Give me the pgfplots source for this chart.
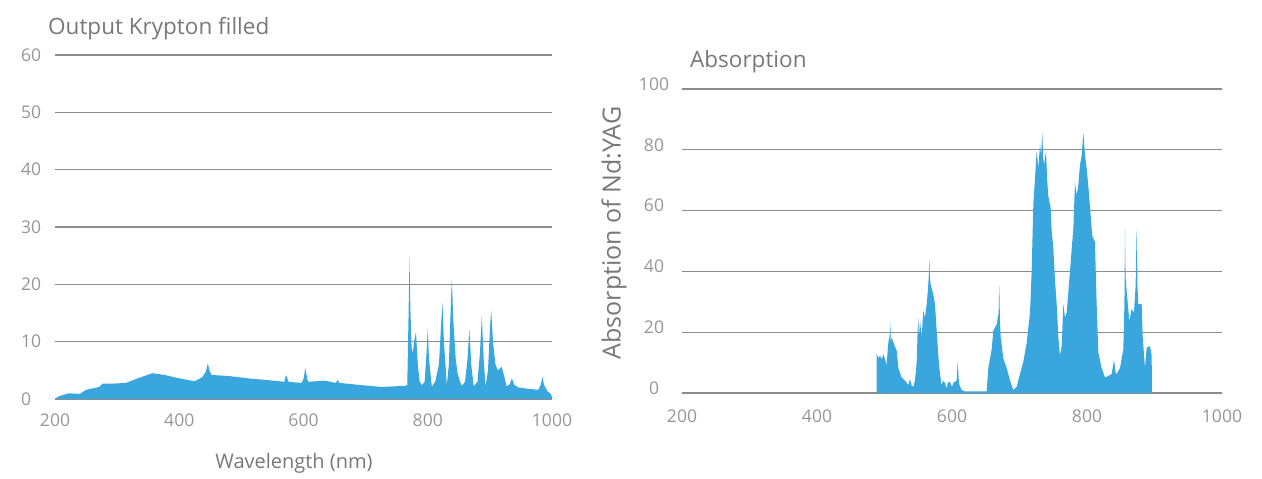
\documentclass[border=0pt]{standalone}
\usepackage{pgfplots}
\pgfplotsset{compat=1.18}
\usepackage{fontspec}
\setmainfont{Open Sans}
\definecolor{fillblue}{RGB}{58,166,222}
\definecolor{gridgray}{RGB}{140,140,140}
\definecolor{ticktext}{RGB}{150,150,150}
\definecolor{labeltext}{RGB}{120,120,120}

\pgfplotstableread{
nm val
200 0
205 0.4
213 0.7
222 1.0
240 0.9
250 1.6
271 2.1
277 2.7
296 2.7
314 2.8
333 3.6
357 4.5
376 4.2
400 3.6
425 3.1
437 3.8
443 4.8
446 6.2
449 4.8
452 4.2
480 4.0
511 3.6
542 3.3
569 3.0
572 4.2
576 3.0
597 2.8
600 3.5
603 5.4
606 3.5
608 3.0
634 3.2
652 2.8
655 3.3
658 2.8
695 2.4
726 2.1
763 2.3
767 2.4
769 14
770.6 24.8
772 16
774 9
776 8
778 10
781 11.7
784 6
787 3
790.5 2.4
795 3
798 8
800 12.2
802 7
806.5 2.2
812 3
818 6
821 12
823.7 16.8
826 10
830.7 2.4
834 6
837 16
838.8 20.9
841 14
845 7
848 4.5
852 3
855 2.3
860 3
864 7
867 12.2
870 6
874 2.2
880 3
884 8
887 14.5
890 7
893 2.2
897 5
900 12
902 15.6
905 10
909 6
913 5
919 5.6
923 4
927 2.2
932 2.6
935.5 3.6
939 2.5
946 2.0
960 1.8
978 1.6
982 2.5
984.7 3.9
987 2.5
993 1.3
997 1.0
1000 0.4
}\krypton

\pgfplotstableread{
nm val
488.4 0
488.5 12.8
491 11.5
493.3 12.3
496 11
498.3 12.8
501 11
503.2 9.2
505 15
507.2 19.5
508.4 16
509.1 23.6
509.8 18
511 18
515 15.5
518 14
520.5 8.2
525.4 5.1
530.4 4.1
535.3 2.6
537.8 4.6
540 2.5
542.7 2.0
545 4
547.7 10
549 20
550.1 24.8
551 18
552.6 23.6
555.1 18.5
557.5 27
560 24.8
562.5 29.2
564 33
565.5 38
566.4 44.3
567.3 38
568.4 35.7
572.3 32.4
574.8 29.2
577.3 20.5
579.7 12.3
582.2 6.2
584.7 2.6
587 4
589.6 3.3
592 1.5
594 3.5
597 3.6
600 2.0
602 3.3
606.9 4.1
608.4 10.3
610.4 3.0
614.3 1.0
619.3 0.5
626.7 0.5
651.4 0.5
653.8 8.2
658.8 14.4
661.2 20.5
666.2 22.6
669 26
670.1 35.7
671 24
672.1 18.5
676.1 11.3
681 8.2
685.9 4.1
690.9 1.0
695.8 2.0
700.7 6.2
705.7 10.3
710.6 16.4
715.6 26.5
718 40
720.5 62
723 70.7
725.4 79.5
728 74
730.4 82
732 78
733.8 85.6
735 78
736.3 75
739.3 79.5
741 70
742.7 64.7
746.2 60.8
747.6 53.5
750.1 47.7
752.6 37
755.1 29.2
757.5 18.5
760 12.3
762.5 15.4
764.9 29.2
767.4 24.8
769.9 26.5
774.8 40
779.8 54.4
782.2 69
784.7 65.2
787 68
789.6 75
792 78
794.6 85.6
797 78.4
799.5 73.9
802 68
804.4 61.2
807.9 51.6
811.8 49.7
814.3 29.2
816.8 13.3
821.7 8.2
826.7 5.1
831.6 5.6
836.5 6.2
840 10.8
843 6
848.9 8.2
853.8 14.4
855.5 30
856.3 54
857.2 38
858.8 33.5
862.7 23.6
866.2 27.6
869.6 26.5
872 35
873.6 54.4
874.8 35
876 29.2
881 29.2
882.5 18.5
885.9 8.2
888.4 14.9
893.3 15.4
895.8 12.3
896.3 0
}\ndyag

\pgfplotsset{
  myaxis/.style={
    scale only axis, anchor=south west,
    axis line style={draw=none}, tick style={draw=none},
    major tick length=0pt,
    ymajorgrids, major grid style={draw=gridgray, line width=1.3pt},
    xmin=200, xmax=1000,
    xtick={200,400,600,800,1000}, xticklabels={200,400,600,800,1000},
    ticklabel style={font=\fontsize{17.5}{20}\selectfont, text=ticktext, inner sep=0pt},
  }
}

\begin{document}
\begin{tikzpicture}
\path[use as bounding box] (0pt,0pt) rectangle (1262pt,479pt);

\begin{axis}[myaxis, at={(55pt,80pt)}, width=497pt, height=344pt,
  ymin=0, ymax=60, ytick={0,10,20,30,40,50,60}, yticklabels={0,10,20,30,40,50,60},
  xticklabel style={anchor=center, yshift=-21pt},
  yticklabel style={anchor=west, xshift=-34pt}]
\addplot[fill=fillblue, draw=none] table[x=nm, y=val] {\krypton} \closedcycle;
\end{axis}

\begin{axis}[myaxis, at={(682pt,86pt)}, width=540pt, height=304pt,
  ymin=0, ymax=100, ytick={0,20,40,60,80,100}, yticklabels={0,20,40,60,80,100},
  xticklabel style={anchor=center, yshift=-23pt},
  yticklabel style={anchor=center, xshift=-28pt, yshift=5pt}]
\addplot[fill=fillblue, draw=none] table[x=nm, y=val] {\ndyag} \closedcycle;
\end{axis}

\node[anchor=base west, inner sep=0pt, text=labeltext, font=\fontsize{22.5}{26}\selectfont] at (48pt,444pt) {Output Krypton filled};
\node[anchor=base west, inner sep=0pt, text=labeltext, font=\fontsize{22.5}{26}\selectfont] at (690pt,411pt) {Absorption};
\node[anchor=base, inner sep=0pt, text=labeltext, font=\fontsize{20}{24}\selectfont] at (294pt,10pt) {Wavelength (nm)};
\node[anchor=center, rotate=90, inner sep=0pt, text=labeltext, font=\fontsize{25}{28}\selectfont] at (614pt,246pt) {Absorption of Nd:YAG};
\end{tikzpicture}
\end{document}
